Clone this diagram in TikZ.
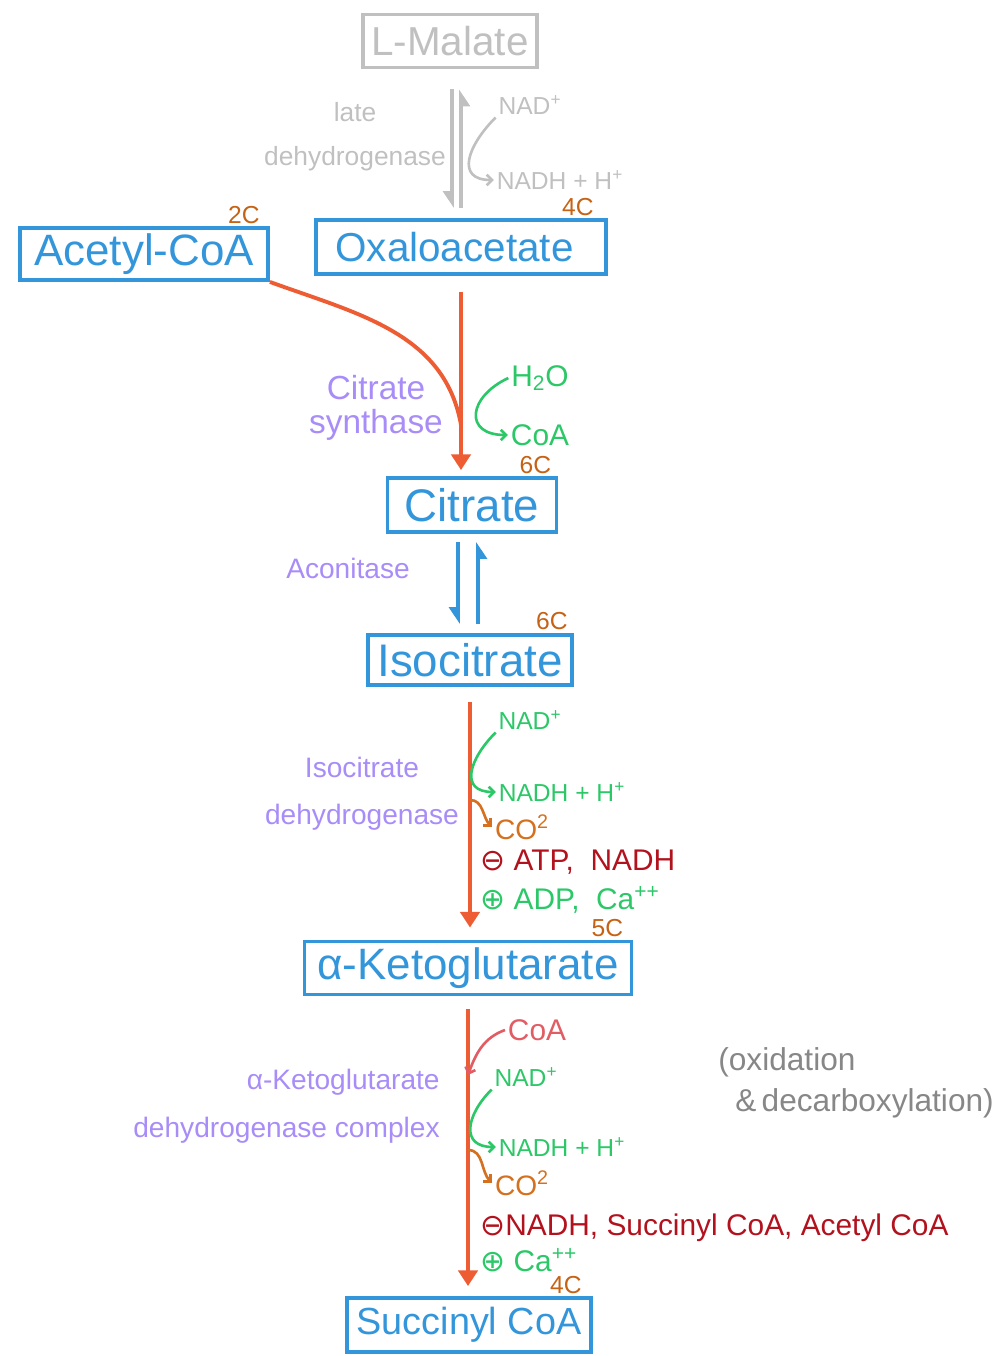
\documentclass[tikz,border=0pt]{standalone}
\usepackage{fontspec}
\setmainfont{Liberation Sans}
\newfontfamily\symfont{DejaVu Sans}
\usepackage{tikz}
\usetikzlibrary{positioning, arrows.meta}

\definecolor{molblue}{RGB}{52,150,218}
\definecolor{pathred}{RGB}{238,92,52}
\definecolor{cofgreen}{RGB}{44,200,104}
\definecolor{enzpurple}{RGB}{168,140,248}
\definecolor{carbbrown}{RGB}{198,98,20}
\definecolor{inhred}{RGB}{178,18,30}
\definecolor{coasalmon}{RGB}{226,92,100}
\definecolor{cotwo}{RGB}{212,112,30}
\definecolor{sketchgray}{RGB}{192,192,192}
\definecolor{notegray}{RGB}{135,135,135}

\begin{document}
\begin{tikzpicture}
	[x=0.02cm, y=0.02cm,
	 mol/.style={draw=molblue, text=molblue, line width=2.2pt, inner sep=0pt, font=\fontsize{23}{23}\selectfont},
	 carbon/.style={text=carbbrown, inner sep=0pt, font=\fontsize{14}{14}\selectfont},
	 enzyme/.style={text=enzpurple, align=center, inner sep=0pt, font=\fontsize{16}{27}\selectfont},
	 cofactor/.style={text=cofgreen, inner sep=1.5pt, font=\fontsize{14}{14}\selectfont},
	 effector/.style={inner sep=0pt, anchor=west, font=\fontsize{17}{17}\selectfont},
	 flux/.style={draw=pathred, line width=2.2pt, -{Triangle[length=9pt,width=11pt]}},
	 swing/.style={line width=1.5pt, -{Straight Barb[length=3pt,width=6pt]}},
	 revhalf/.style={line width=2.4pt, -{Triangle[harpoon,swap,length=8pt,width=10pt]}}]
   \useasboundingbox (0,0) rectangle (1000,-1356);
   \node[mol, draw=sketchgray, text=sketchgray, minimum width=3.48cm, minimum height=1.06cm] (malate) at (450,-41) {L-Malate};
   \node[mol, font=\fontsize{25}{25}\selectfont, minimum width=4.96cm, minimum height=1.04cm] (acetyl) at (144,-254) {Acetyl-CoA};
   \node[mol, minimum width=5.8cm, minimum height=1.08cm] (oxalo) at (461,-247) {Oxaloacetate\hspace*{0.26cm}};
   \node[mol, font=\fontsize{26}{26}\selectfont, minimum width=3.38cm, minimum height=1.08cm] (citrate) at (472,-505) {Citrate};
   \node[mol, font=\fontsize{26}{26}\selectfont, minimum width=4.08cm, minimum height=1.0cm] (isocitrate) at (470,-660) {Isocitrate};
   \node[mol, font=\fontsize{25}{25}\selectfont, minimum width=6.54cm, minimum height=1.06cm] (akg) at (468,-968) {α-Ketoglutarate};
   \node[mol, font=\fontsize{21.5}{21.5}\selectfont, minimum width=4.88cm, minimum height=1.08cm] (succinyl) at (469,-1325) {Succinyl CoA};

   \node[carbon, above left=0.04cm and 0.2cm of acetyl.north east] (c_acetyl) {2C};
   \node[carbon, above left=0.04cm and 0.28cm of oxalo.north east] (c_oxalo) {4C};
   \node[carbon, above left=0.04cm and 0.14cm of citrate.north east] (c_citrate) {6C};
   \node[carbon, above left=0.06cm and 0.12cm of isocitrate.north east] (c_isocitrate) {6C};
   \node[carbon, above left=0.04cm and 0.2cm of akg.north east] (c_akg) {5C};
   \node[carbon, above left=0.04cm and 0.22cm of succinyl.north east] (c_succinyl) {4C};

   \draw[revhalf, draw=sketchgray, shorten <=0.4cm, shorten >=0.2cm] ([xshift=0.04cm]malate.south) -- ([xshift=0.04cm]malate.south |- oxalo.north);
   \draw[revhalf, draw=sketchgray, shorten <=0.2cm, shorten >=0.4cm] ([xshift=0.22cm]malate.south |- oxalo.north) -- ([xshift=0.22cm]malate.south);
   \node[text=sketchgray, align=center, inner sep=0pt, font=\fontsize{15}{25}\selectfont] (mdh) at (355,-137) {late\\dehydrogenase};
   \node[cofactor, text=sketchgray] (g_nad) at (530,-105) {NAD\textsuperscript{+}};
   \node[cofactor, text=sketchgray] (g_nadh) at (560,-180) {NADH + H\textsuperscript{+}};
   \draw[swing, sketchgray] (g_nad.south west) to[out=225, in=180, looseness=1.6] (g_nadh.west);

   \draw[flux, shorten <=0.32cm, shorten >=0.12cm] (oxalo.south) -- (oxalo.south |- citrate.north);
   \coordinate (cs_join) at (oxalo.south |- 0,-425);
   \draw[draw=pathred, line width=2.2pt] (acetyl.south east) to[out=-20, in=100] (cs_join);
   \node[cofactor, font=\fontsize{17}{17}\selectfont] (h2o) at (540,-378) {H\textsubscript{2}O};
   \node[cofactor, font=\fontsize{17}{17}\selectfont] (coa_out) at (540,-435) {CoA};
   \draw[swing, cofgreen] (h2o.west) to[out=205, in=180, looseness=2] (coa_out.west);
   \node[enzyme, font=\fontsize{19}{19}\selectfont] (cs) at (376,-408) {Citrate\\synthase};

   \draw[revhalf, draw=molblue, shorten <=0.16cm, shorten >=0.18cm] ([xshift=-0.28cm]citrate.south) -- ([xshift=-0.28cm]citrate.south |- isocitrate.north);
   \draw[revhalf, draw=molblue, shorten <=0.18cm, shorten >=0.16cm] ([xshift=0.12cm]citrate.south |- isocitrate.north) -- ([xshift=0.12cm]citrate.south);
   \node[enzyme] (aco) at (348,-568) {Aconitase};

   \draw[flux, shorten <=0.3cm, shorten >=0.24cm] (isocitrate.south) -- (isocitrate.south |- akg.north);
   \node[cofactor] (nad_1) at (530,-720) {NAD\textsuperscript{+}};
   \node[cofactor] (nadh_1) at (562,-792) {NADH + H\textsuperscript{+}};
   \draw[swing, cofgreen] (nad_1.south west) to[out=225, in=180, looseness=1.6] (nadh_1.west);
   \node[cofactor, text=cotwo, font=\fontsize{16}{16}\selectfont] (co2_1) at (522,-827) {CO\textsuperscript{2}};
   \coordinate (co2_1_src) at (isocitrate.south |- 0,-800);
   \draw[swing, cotwo] (co2_1_src) to[out=0, in=135] (co2_1.west);
   \node[effector, text=inhred] (inh_1) at (480,-862) {{\symfont ⊖} ATP,\ \ NADH};
   \node[effector, text=cofgreen] (act_1) at (480,-900) {{\symfont ⊕} ADP,\ \ Ca\textsuperscript{++}};
   \node[enzyme] (idh) at (362,-794) {Isocitrate\\dehydrogenase};

   \draw[flux, shorten <=0.26cm, shorten >=0.2cm] (akg.south) -- (akg.south |- succinyl.north);
   \node[cofactor, text=coasalmon, font=\fontsize{17}{17}\selectfont] (coa_in) at (537,-1030) {CoA};
   \coordinate (coa_join) at (akg.south |- 0,-1075);
   \draw[swing, coasalmon] (coa_in.west) to[out=200, in=70] (coa_join);
   \node[cofactor] (nad_2) at (526,-1077) {NAD\textsuperscript{+}};
   \node[cofactor] (nadh_2) at (562,-1147) {NADH + H\textsuperscript{+}};
   \draw[swing, cofgreen] (nad_2.south west) to[out=225, in=180, looseness=1.6] (nadh_2.west);
   \node[cofactor, text=cotwo, font=\fontsize{16}{16}\selectfont] (co2_2) at (522,-1183) {CO\textsuperscript{2}};
   \coordinate (co2_2_src) at (akg.south |- 0,-1150);
   \draw[swing, cotwo] (co2_2_src) to[out=0, in=135] (co2_2.west);
   \node[effector, text=inhred] (inh_2) at (480,-1228) {{\symfont ⊖}NADH, Succinyl CoA, Acetyl CoA};
   \node[effector, text=cofgreen] (act_2) at (480,-1260) {{\symfont ⊕} Ca\textsuperscript{++}};
   \node[enzyme, align=right, anchor=east] (kgdh) at (440,-1106) {α-Ketoglutarate\\dehydrogenase complex};
   \node[text=notegray, align=left, anchor=west, inner sep=0pt, font=\fontsize{18}{23}\selectfont] (note) at (718,-1083) {(oxidation\\\hspace*{0.34cm}\&\,decarboxylation)};
\end{tikzpicture}
\end{document}
